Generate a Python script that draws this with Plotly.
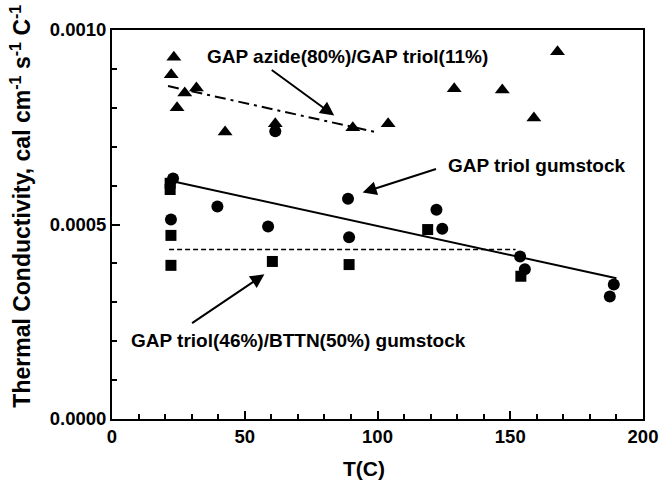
import plotly.graph_objects as go

# GAP azide(80%)/GAP triol(11%) - triangles
tri_x = [23.3, 22.3, 27.4, 31.8, 24.5, 42.6, 61.5, 90.7, 104, 128.9, 147, 158.9, 167.8]
tri_y = [0.000930, 0.000885, 0.000838, 0.000851, 0.000800, 0.000738, 0.000759, 0.000749,
         0.000759, 0.000849, 0.000846, 0.000774, 0.000944]
# GAP triol gumstock - circles
cir_x = [23, 39.7, 22.2, 58.8, 61.5, 88.9, 122.2, 89.3, 124.4, 153.7, 155.5, 189, 187.5]
cir_y = [0.000618, 0.000546, 0.000513, 0.000495, 0.000740, 0.000566, 0.000538, 0.000467,
         0.000489, 0.000418, 0.000385, 0.000346, 0.000315]
# GAP triol(46%)/BTTN(50%) gumstock - squares
sq_x = [21.9, 21.9, 22.2, 22.2, 60.4, 89.3, 118.9, 154]
sq_y = [0.000606, 0.000590, 0.000472, 0.000395, 0.000405, 0.000397, 0.000487, 0.000367]

# fit lines
azide_fit_x = [21.1, 100.4]
azide_fit_y = [0.000856, 0.000736]
triol_fit_x = [21.5, 190]
triol_fit_y = [0.000613, 0.000362]
bttn_fit_x = [21.5, 152]
bttn_fit_y = [0.000436, 0.000436]

fig = go.Figure()
fig.add_trace(go.Scatter(x=azide_fit_x, y=azide_fit_y, mode="lines",
                         line=dict(color="black", width=2, dash="11px,5px,3px,5px")))
fig.add_trace(go.Scatter(x=triol_fit_x, y=triol_fit_y, mode="lines",
                         line=dict(color="black", width=2)))
fig.add_trace(go.Scatter(x=bttn_fit_x, y=bttn_fit_y, mode="lines",
                         line=dict(color="black", width=1.5, dash="5px,3px")))
fig.add_trace(go.Scatter(x=tri_x, y=tri_y, mode="markers",
                         marker=dict(symbol="triangle-up", size=13, color="black")))
fig.add_trace(go.Scatter(x=cir_x, y=cir_y, mode="markers",
                         marker=dict(symbol="circle", size=12, color="black")))
fig.add_trace(go.Scatter(x=sq_x, y=sq_y, mode="markers",
                         marker=dict(symbol="square", size=11, color="black")))

afont = dict(family="Liberation Sans, Arial", size=19, color="black")

labels = [
    ("<b>GAP azide(80%)/GAP triol(11%)</b>", 88.7, 0.000933),
    ("<b>GAP triol gumstock</b>", 160, 0.000651),
    ("<b>GAP triol(46%)/BTTN(50%) gumstock</b>", 70.4, 0.000203),
]
for t, x, y in labels:
    fig.add_annotation(x=x, y=y, text=t, showarrow=False, font=afont, xref="x", yref="y")

arrows = [
    (83.7, 0.000780, 59.6, 0.000900),
    (94.4, 0.000582, 122.6, 0.000644),
    (57.4, 0.000372, 29.6, 0.000244),
]
for x, y, ax, ay in arrows:
    fig.add_annotation(x=x, y=y, ax=ax, ay=ay, xref="x", yref="y", axref="x", ayref="y",
                       text="", showarrow=True, arrowhead=2, arrowsize=1.4, arrowwidth=2,
                       arrowcolor="black")

# axis titles
fig.add_annotation(text="<b>Thermal Conductivity, cal cm<sup>-1</sup> s<sup>-1</sup> C<sup>-1</sup></b>",
                   xref="paper", yref="paper", x=-0.172, y=0.5476, textangle=-90,
                   xanchor="center", yanchor="middle", showarrow=False,
                   font=dict(family="Liberation Sans, Arial", size=23, color="black"))
fig.add_annotation(text="<b>T(C)</b>", xref="x", yref="paper", x=94.8, y=-0.126,
                   xanchor="center", yanchor="middle", showarrow=False,
                   font=dict(family="Liberation Sans, Arial", size=21, color="black"))

tfont = dict(family="Liberation Sans, Arial", size=18.5, color="black")
fig.update_layout(
    width=670, height=492,
    margin=dict(l=112, r=18, t=30, b=73),
    paper_bgcolor="white", plot_bgcolor="white",
    showlegend=False,
    font=tfont,
    xaxis=dict(range=[0, 200], tickvals=[0, 50, 100, 150, 200],
               ticktext=["<b>0</b>", "<b>50</b>", "<b>100</b>", "<b>150</b>", "<b>200</b>"],
               ticks="inside", ticklen=8, tickwidth=2, tickcolor="black",
               minor=dict(dtick=10, ticks="inside", ticklen=5, tickwidth=1.5, tickcolor="black"),
               showline=True, linecolor="black", linewidth=2, mirror=True,
               showgrid=False, zeroline=False),
    yaxis=dict(range=[0, 0.001], tickvals=[0, 0.0005, 0.001],
               ticktext=["<b>0.0000</b>", "<b>0.0005</b>", "<b>0.0010</b>"],
               ticks="inside", ticklen=8, tickwidth=2, tickcolor="black",
               minor=dict(dtick=0.0001, ticks="inside", ticklen=5, tickwidth=1.5, tickcolor="black"),
               showline=True, linecolor="black", linewidth=2, mirror=True,
               showgrid=False, zeroline=False),
)

fig.write_html("out.html")
